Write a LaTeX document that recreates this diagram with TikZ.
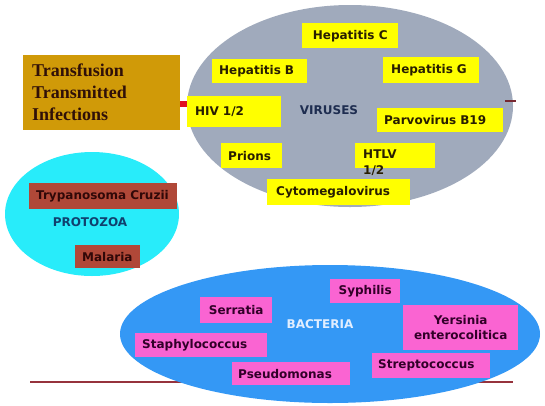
\documentclass[tikz,border=0pt]{standalone}
\usepackage{fontspec}
\setmainfont{DejaVu Sans}
\newfontfamily\titlefont{Liberation Serif}
\usetikzlibrary{shapes.geometric}

\definecolor{titlegold}{RGB}{208,154,8}
\definecolor{titleink}{RGB}{48,16,8}
\definecolor{virusgray}{RGB}{160,170,188}
\definecolor{virusbox}{RGB}{255,255,0}
\definecolor{virusink}{RGB}{40,30,0}
\definecolor{virushead}{RGB}{30,45,80}
\definecolor{protocyan}{RGB}{40,236,250}
\definecolor{protobox}{RGB}{176,72,56}
\definecolor{protoink}{RGB}{48,8,8}
\definecolor{protohead}{RGB}{16,64,110}
\definecolor{bactblue}{RGB}{52,152,245}
\definecolor{bactbox}{RGB}{250,100,210}
\definecolor{bactink}{RGB}{50,0,40}
\definecolor{bacthead}{RGB}{225,238,255}
\definecolor{linkred}{RGB}{225,16,32}
\definecolor{ruleline}{RGB}{150,50,60}

\tikzset{
  lbl/.style={font=\fontsize{12}{15}\selectfont\bfseries, inner ysep=0pt,
    inner xsep=7pt, anchor=north west},
  vbox/.style={lbl, fill=virusbox, text=virusink},
  pbox/.style={lbl, fill=protobox, text=protoink},
  bbox/.style={lbl, fill=bactbox, text=bactink},
  group/.style={ellipse, inner sep=0pt},
  head/.style={font=\fontsize{12}{15}\selectfont\bfseries, inner sep=0pt},
}

\begin{document}
\begin{tikzpicture}[x=1pt,y=-1pt]
\useasboundingbox (0,0) rectangle (545,405);

% title box
\node[fill=titlegold, text=titleink, anchor=north west, inner xsep=9pt,
  inner ysep=0pt, minimum width=157pt, minimum height=75pt, text width=139pt,
  align=left, font=\titlefont\fontsize{18}{22}\selectfont\bfseries]
  (title) at (23,55) {Transfusion\\Transmitted\\Infections};

% rule under the whole chart
\coordinate (ruleL) at (30,382);
\coordinate (ruleR) at (513,382);
\draw[ruleline, line width=2pt] (ruleL) -- (ruleR);

% the three groups
\node[group, fill=virusgray, minimum width=326pt, minimum height=202pt]
  (viruses) at (350,106) {};
\node[group, fill=protocyan, minimum width=174pt, minimum height=124pt]
  (protozoa) at (92,214) {};
\node[group, fill=bactblue, minimum width=420pt, minimum height=138pt]
  (bacteria) at (330,334) {};

% viruses
\node[head, text=virushead] (vlabel) at (329,110) {VIRUSES};
\node[vbox, minimum width=96pt, minimum height=25pt] (hepc) at (302,23) {Hepatitis C};
\node[vbox, minimum height=24pt, text width=81pt, align=left] (hepb) at (212,59) {Hepatitis B};
\node[vbox, minimum height=26pt, text width=80pt, align=left, inner xsep=8pt] (hepg) at (383,57) {Hepatitis G};
\node[vbox, minimum height=31pt, text width=78pt, align=left, inner xsep=8pt] (hiv) at (187,96) {HIV 1/2};
\node[vbox, minimum height=24pt, text width=112pt, align=left] (parvo) at (377,108) {Parvovirus B19};
\node[vbox, minimum height=25pt, text width=47pt, align=left] (prions) at (221,143) {Prions};
\node[vbox, minimum width=80pt, minimum height=25pt] (htlv) at (355,143) {};
\node[lbl, text=virusink, inner sep=0pt, align=left,
  font=\fontsize{12}{16}\selectfont\bfseries] (htlvtext) at (363,149.5) {HTLV\\1/2};
\node[vbox, minimum height=26pt, text width=125pt, align=left, inner xsep=9pt] (cmv) at (267,179) {Cytomegalovirus};

% link from the title into the chart
\draw[linkred, line width=6pt] (title.east |- 0,103.5) -- (hiv.west |- 0,103.5);
\coordinate (stubL) at (505,101);
\coordinate (stubR) at (516,101);
\draw[ruleline!80!black, line width=1.5pt] (stubL) -- (stubR);

% protozoa
\node[head, text=protohead] (plabel) at (90,222) {PROTOZOA};
\node[pbox, minimum height=26pt, text width=134pt, align=left, inner xsep=7pt] (tryp) at (29,183) {Trypanosoma Cruzii};
\node[pbox, minimum width=63pt, minimum height=23pt] (malaria) at (75,245) {Malaria};

% bacteria
\node[head, text=bacthead] (blabel) at (320,324) {BACTERIA};
\node[bbox, minimum width=70pt, minimum height=24pt] (syph) at (330,279) {Syphilis};
\node[bbox, minimum width=72pt, minimum height=26pt] (serr) at (200,297) {Serratia};
\node[bbox, minimum width=115pt, minimum height=45pt, align=center] (yers) at (403,305) {Yersinia\\enterocolitica};
\node[bbox, minimum height=24pt, text width=118pt, align=left] (staph) at (135,333) {Staphylococcus};
\node[bbox, minimum height=23pt, text width=106pt, align=left, inner xsep=6pt] (pseudo) at (232,362) {Pseudomonas};
\node[bbox, minimum height=25pt, text width=106pt, align=left, inner xsep=6pt] (strep) at (372,353) {Streptococcus};
\end{tikzpicture}
\end{document}
